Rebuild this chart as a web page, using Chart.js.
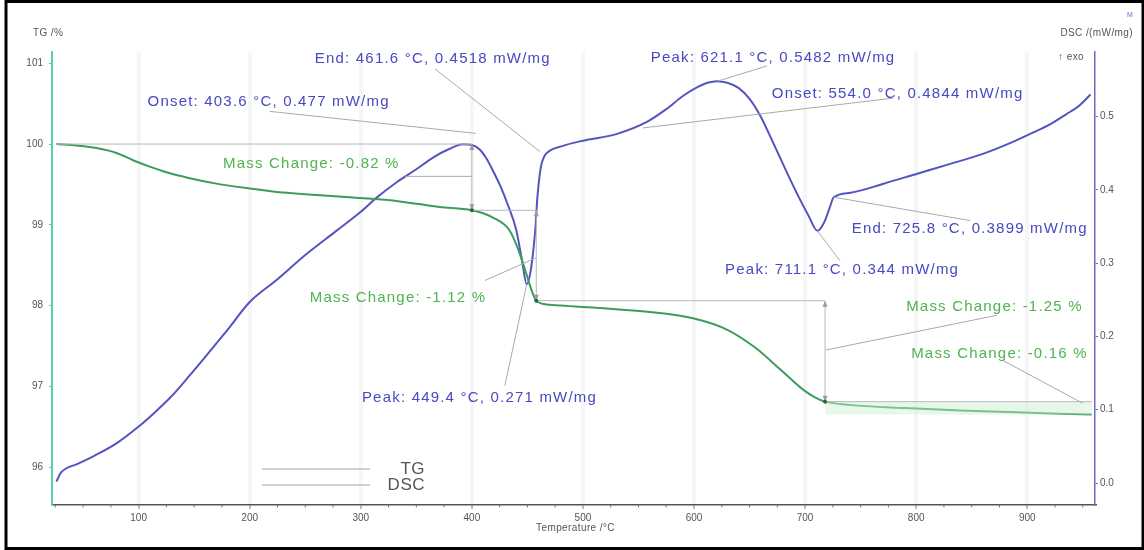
<!DOCTYPE html>
<html>
<head>
<meta charset="utf-8">
<script src="https://cdn.jsdelivr.net/npm/chart.js@4.4.1/dist/chart.umd.min.js"></script>
<style>
  html, body { margin: 0; padding: 0; background: #fff; }
</style>
</head>
<body>
<canvas id="taChart" width="1144" height="550"></canvas>
<script>
// TG curve (temperature °C, mass %)
const tgTemp = [26, 45, 62, 80, 95, 110, 125, 145, 170, 200, 230, 260, 290, 335, 371, 400, 419, 434, 441, 448, 453, 458, 465, 480, 515, 560, 600, 630, 655, 680, 700, 712, 718, 740, 790, 840, 890, 930, 958];
const tgMass = [100.00, 99.98, 99.95, 99.89, 99.80, 99.72, 99.65, 99.58, 99.51, 99.45, 99.40, 99.37, 99.34, 99.29, 99.22, 99.18, 99.09, 98.93, 98.72, 98.44, 98.22, 98.06, 98.02, 98.00, 97.97, 97.92, 97.84, 97.70, 97.48, 97.18, 96.94, 96.84, 96.81, 96.77, 96.73, 96.70, 96.68, 96.66, 96.65];

// DSC curve (temperature °C, heat flow mW/mg)
const dscTemp = [26, 30, 45, 60, 80, 100, 115, 130, 145, 160, 180, 200, 225, 250, 278, 300, 314, 332, 350, 365, 380, 392, 400, 407, 413, 419, 426, 432, 440, 445, 449.4, 453, 457, 459, 462, 465, 468, 482, 500, 530, 558, 575, 590, 603, 612, 621.1, 630, 640, 650, 660, 671, 686, 695, 703, 711.1, 717, 722, 725.8, 741, 770, 801, 830, 860, 885, 905, 920, 935, 947, 957];
const dscFlow = [0.002, 0.014, 0.026, 0.037, 0.054, 0.077, 0.097, 0.119, 0.145, 0.172, 0.209, 0.247, 0.278, 0.311, 0.344, 0.370, 0.389, 0.410, 0.428, 0.444, 0.456, 0.462, 0.461, 0.455, 0.443, 0.426, 0.404, 0.381, 0.345, 0.305, 0.271, 0.290, 0.344, 0.390, 0.430, 0.445, 0.451, 0.460, 0.467, 0.476, 0.493, 0.510, 0.528, 0.540, 0.546, 0.5482, 0.546, 0.539, 0.524, 0.500, 0.465, 0.416, 0.388, 0.365, 0.344, 0.355, 0.375, 0.3899, 0.396, 0.408, 0.422, 0.435, 0.449, 0.464, 0.478, 0.489, 0.503, 0.515, 0.530];

// axis ticks
const tempTicks = [100, 200, 300, 400, 500, 600, 700, 800, 900];
const tgTicks = [96, 97, 98, 99, 100, 101];
const dscTicks = [0.0, 0.1, 0.2, 0.3, 0.4, 0.5];

// mass change steps (temperature, mass %)
const stepTemp = [26, 400, 458, 718, 958];
const stepMass = [100.00, 99.18, 98.06, 96.81, 96.65];

// DSC evaluation results
const evalKind = ['Onset', 'End', 'Peak', 'Peak', 'Onset', 'Peak', 'End'];
const evalTemp = [403.6, 461.6, 449.4, 621.1, 554.0, 711.1, 725.8];
const evalFlow = [0.477, 0.4518, 0.271, 0.5482, 0.4844, 0.344, 0.3899];

const toPoints = (xs, ys) => xs.map((v, i) => ({ x: v, y: ys[i] }));

// where each text sits, in axis units: [labelT, labelY, leaderT, leaderY]
const evalPlace = [
  [108, 0.520, 218, 0.507],
  [258.6, 0.578, 366.7, 0.565],
  [301, 0.116, 429.7, 0.133],
  [561, 0.580, 665.8, 0.569],
  [670, 0.531, 779, 0.525],
  [628, 0.291, 731.5, 0.303],
  [742, 0.347, 848.6, 0.358]
];
const stepPlace = [
  [176, 99.76, 340, 99.60, 400, 99.60],
  [254, 98.10, 411.7, 98.31, 457.7, 98.59],
  [791, 97.98, 718.9, 97.45, 873, 97.88],
  [795.5, 97.40, 878, 97.32, 950, 96.79]
];

const annotate = {
  id: 'annotate',
  afterDatasetsDraw(chart) {
    const { ctx, chartArea, scales: { x, yTG, yDSC } } = chart;
    const X = t => x.getPixelForValue(t);
    const TG = v => yTG.getPixelForValue(v);
    const DS = v => yDSC.getPixelForValue(v);

    ctx.save();
    ctx.lineWidth = 1;

    // step construction for mass change
    ctx.fillStyle = 'rgba(205, 240, 205, 0.45)';
    ctx.fillRect(X(stepTemp[3]), TG(stepMass[3]), X(stepTemp[4]) - X(stepTemp[3]), TG(stepMass[4]) - TG(stepMass[3]));
    ctx.strokeStyle = '#b8b8b8';
    ctx.beginPath();
    for (let i = 0; i < 3; i++) {
      ctx.moveTo(X(stepTemp[i]), TG(stepMass[i]));
      ctx.lineTo(X(stepTemp[i + 1]), TG(stepMass[i]));
      ctx.lineTo(X(stepTemp[i + 1]), TG(stepMass[i + 1]));
    }
    ctx.moveTo(X(stepTemp[3]), TG(stepMass[3]));
    ctx.lineTo(X(stepTemp[4]), TG(stepMass[3]));
    ctx.stroke();
    // small arrow heads on the vertical legs
    ctx.fillStyle = '#9a9a9a';
    for (let i = 1; i < 4; i++) {
      const ax = X(stepTemp[i]);
      [[TG(stepMass[i - 1]), 1], [TG(stepMass[i]), -1]].forEach(([ay, d]) => {
        ctx.beginPath();
        ctx.moveTo(ax, ay);
        ctx.lineTo(ax - 2.5, ay + d * 6);
        ctx.lineTo(ax + 2.5, ay + d * 6);
        ctx.closePath();
        ctx.fill();
      });
    }

    // leader lines
    ctx.strokeStyle = '#a9a9a9';
    ctx.beginPath();
    evalPlace.forEach((p, i) => {
      ctx.moveTo(X(p[2]), DS(p[3]));
      ctx.lineTo(X(evalTemp[i]), DS(evalFlow[i]));
    });
    stepPlace.forEach(p => {
      ctx.moveTo(X(p[2]), TG(p[3]));
      ctx.lineTo(X(p[4]), TG(p[5]));
    });
    ctx.stroke();

    // step points on TG
    ctx.fillStyle = '#2f5f3a';
    for (let i = 1; i < 4; i++) {
      ctx.beginPath();
      ctx.arc(X(stepTemp[i]), TG(stepMass[i]), 2, 0, Math.PI * 2);
      ctx.fill();
    }

    // texts
    ctx.font = '15px "Liberation Sans", Arial, sans-serif';
    ctx.letterSpacing = '1.2px';
    ctx.textBaseline = 'middle';
    ctx.textAlign = 'left';
    ctx.fillStyle = '#4848c4';
    evalPlace.forEach((p, i) => {
      const txt = evalKind[i] + ': ' + evalTemp[i].toFixed(1) + ' °C, ' + evalFlow[i] + ' mW/mg';
      ctx.fillText(txt, X(p[0]), DS(p[1]));
    });
    ctx.fillStyle = '#4fb34f';
    stepPlace.forEach((p, i) => {
      const diff = stepMass[i + 1] - stepMass[i];
      ctx.fillText('Mass Change: ' + diff.toFixed(2) + ' %', X(p[0]), TG(p[1]));
    });

    // legend
    const lx = chartArea.left + 210, ly = chartArea.bottom - 36;
    ctx.strokeStyle = '#c4c4c4';
    ctx.lineWidth = 1.5;
    ctx.beginPath();
    ctx.moveTo(lx, ly); ctx.lineTo(lx + 108, ly);
    ctx.moveTo(lx, ly + 16); ctx.lineTo(lx + 108, ly + 16);
    ctx.stroke();
    ctx.font = '17px "Liberation Sans", Arial, sans-serif';
    ctx.letterSpacing = '0.5px';
    ctx.fillStyle = '#555';
    ctx.textAlign = 'right';
    ctx.fillText(chart.data.datasets[0].label, lx + 163, ly);
    ctx.fillText(chart.data.datasets[1].label, lx + 163, ly + 16);

    // minor ticks on the temperature axis
    ctx.strokeStyle = '#777';
    ctx.lineWidth = 1;
    ctx.beginPath();
    for (let t = 25; t <= x.max; t += 25) {
      if (t % 100 === 0) continue;
      ctx.moveTo(X(t), chartArea.bottom);
      ctx.lineTo(X(t), chartArea.bottom + 2.5);
    }
    ctx.stroke();

    // axis titles
    ctx.font = '10px "Liberation Sans", Arial, sans-serif';
    ctx.letterSpacing = '0.4px';
    ctx.fillStyle = '#555';
    ctx.textAlign = 'left';
    ctx.fillText('TG /%', 33, 33);
    ctx.textAlign = 'right';
    ctx.fillText('DSC /(mW/mg)', 1133, 33);
    ctx.fillText('↑ exo', 1084, 57);
    ctx.textAlign = 'center';
    ctx.fillText('Temperature /°C', (chartArea.left + chartArea.right) / 2 + 2, 528);
    ctx.fillStyle = '#6a6ad0';
    ctx.font = '7px "Liberation Sans", Arial, sans-serif';
    ctx.fillText('M', 1130, 15);

    // outer frame
    ctx.strokeStyle = '#000';
    ctx.lineWidth = 3;
    ctx.strokeRect(6, 1.5, 1137, 547);
    ctx.restore();
  }
};

const tickFont = { family: '"Liberation Sans", Arial, sans-serif', size: 10 };

new Chart(document.getElementById('taChart'), {
  type: 'scatter',
  data: {
    datasets: [
      {
        label: 'TG',
        data: toPoints(tgTemp, tgMass),
        yAxisID: 'yTG',
        showLine: true,
        borderColor: '#3d9c5c',
        borderWidth: 2,
        pointRadius: 0,
        cubicInterpolationMode: 'monotone'
      },
      {
        label: 'DSC',
        data: toPoints(dscTemp, dscFlow),
        yAxisID: 'yDSC',
        showLine: true,
        borderColor: '#5454c0',
        borderWidth: 2,
        pointRadius: 0,
        cubicInterpolationMode: 'monotone'
      }
    ]
  },
  options: {
    responsive: false,
    animation: false,
    layout: { padding: { top: 52, left: 0, right: 0, bottom: 0 } },
    plugins: { legend: { display: false }, tooltip: { enabled: false } },
    scales: {
      x: {
        type: 'linear',
        min: 22,
        max: 961,
        afterBuildTicks: s => { s.ticks = tempTicks.map(v => ({ value: v })); },
        afterFit: s => { s.height = 45; },
        ticks: { color: '#555', font: tickFont, padding: 3, maxRotation: 0 },
        grid: { color: '#f6f6f6', lineWidth: 4, tickColor: '#777', tickWidth: 1, tickLength: 4 },
        border: { color: '#555', width: 1.5 }
      },
      yTG: {
        position: 'left',
        min: 95.53,
        max: 101.14,
        afterBuildTicks: s => { s.ticks = tgTicks.map(v => ({ value: v })); },
        afterFit: s => { s.width = 52; },
        ticks: { color: '#555', font: tickFont, padding: 6 },
        grid: { drawOnChartArea: false, tickColor: '#4cc9a0', tickLength: 3 },
        border: { color: '#58cfae', width: 2 }
      },
      yDSC: {
        position: 'right',
        min: -0.030,
        max: 0.588,
        afterBuildTicks: s => { s.ticks = dscTicks.map(v => ({ value: v })); },
        afterFit: s => { s.width = 49; },
        ticks: { color: '#555', font: tickFont, padding: 2, callback: v => v.toFixed(1) },
        grid: { drawOnChartArea: false, tickColor: '#6b6bc6', tickLength: 3 },
        border: { color: '#6b6bc6', width: 1.5 }
      }
    }
  },
  plugins: [annotate]
});
</script>
</body>
</html>
